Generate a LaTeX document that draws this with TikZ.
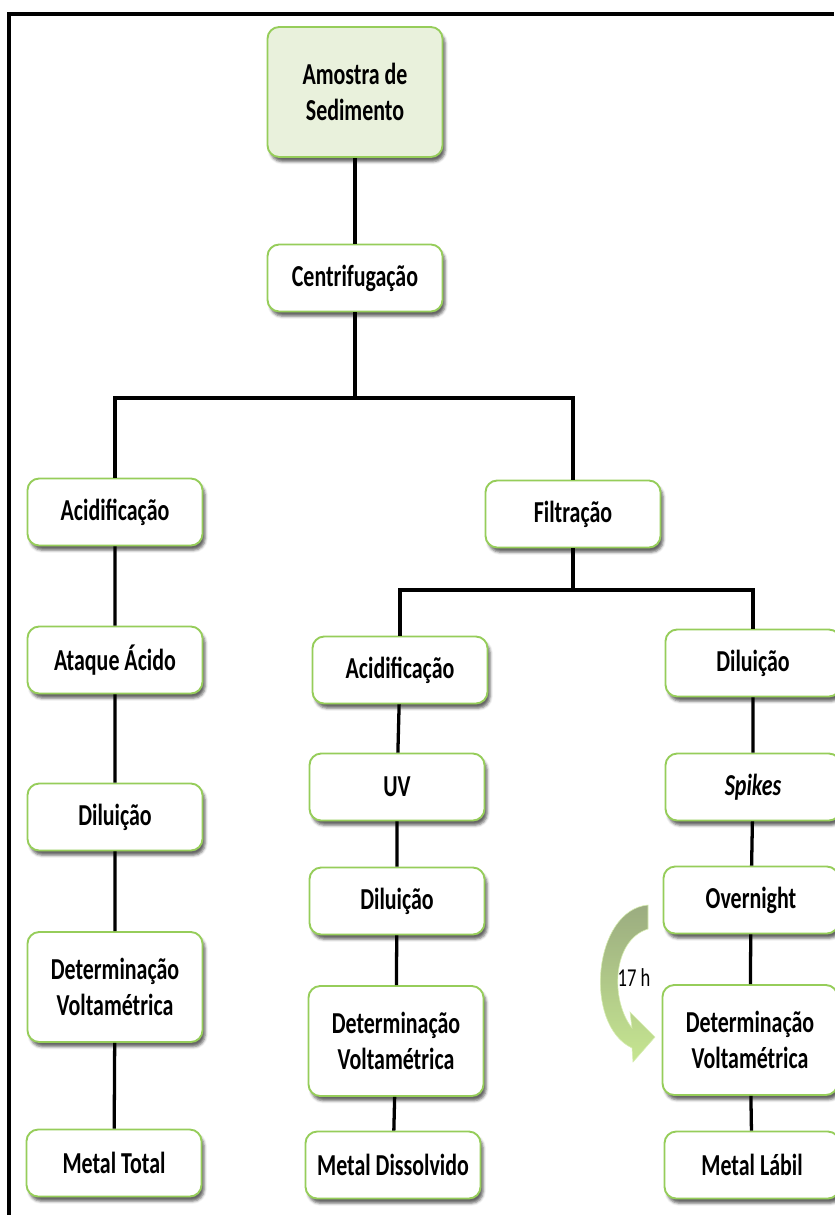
\documentclass[tikz,border=0pt]{standalone}
\usepackage{fontspec}
\setmainfont{Carlito}[FakeStretch=0.72]
\usetikzlibrary{shadows.blur}
\definecolor{boxgreen}{RGB}{150,205,90}
\definecolor{boxfill}{RGB}{233,241,220}
\definecolor{arrowtop}{RGB}{155,172,128}
\definecolor{arrowbot}{RGB}{198,230,145}

\begin{document}
\begin{tikzpicture}[
    x=0.03cm, y=-0.03cm,
    etapa/.style={rectangle, draw=boxgreen, fill=white, line width=1.6pt,
        minimum width=5.25cm, minimum height=2.01cm, rounded corners=10pt,
        align=center, font=\fontsize{26}{30.5}\selectfont\bfseries,
        blur shadow={shadow xshift=0.08cm, shadow yshift=-0.14cm,
            shadow blur radius=0.08cm, shadow opacity=60}},
    etapadupla/.style={etapa, minimum height=3.3cm},
    liga/.style={line width=2.8pt, black}
]
\useasboundingbox (0,0) rectangle (834,1215);

% moldura
\draw[line width=3pt] (9,1215) -- (9,14) -- (834,14);

% topo
\node[etapa, fill=boxfill, minimum height=3.9cm] (amostra) at (355,92) {Amostra de\\Sedimento};
\node[etapa] (centri) at (355,278) {Centrifugação};

% coluna esquerda
\node[etapa] (acidL) at (115,512) {Acidificação};
\node[etapa] (ataque) at (115,660) {Ataque Ácido};
\node[etapa] (dilL) at (115,817) {Diluição};
\node[etapadupla] (detL) at (115,987) {Determinação\\Voltamétrica};
\node[etapa] (total) at (114,1163) {Metal Total};

% coluna do meio
\node[etapa] (filt) at (573,514) {Filtração};
\node[etapa] (acidM) at (400,670) {Acidificação};
\node[etapa] (uv) at (397,787) {UV};
\node[etapa] (dilM) at (397,901) {Diluição};
\node[etapadupla] (detM) at (396,1041) {Determinação\\Voltamétrica};
\node[etapa] (dissolv) at (393,1165) {Metal Dissolvido};

% coluna direita
\node[etapa] (dilR) at (753,663) {Diluição};
\node[etapa] (spikes) at (753,787) {\itshape Spikes};
\node[etapa] (overn) at (751,900) {Overnight};
\node[etapadupla] (detR) at (750,1040) {Determinação\\Voltamétrica};
\node[etapa] (labil) at (752,1165) {Metal Lábil};

% ligacoes
\coordinate (j1) at (355,398);
\coordinate (j2) at (573,590);
\draw[liga] (amostra) -- (centri) -- (j1);
\draw[liga] (acidL) |- (j1) -| (filt);
\draw[liga] (filt) -- (j2);
\draw[liga] (acidM) |- (j2) -| (dilR);
\draw[liga] (acidL) -- (ataque) -- (dilL) -- (detL) -- (total);
\draw[liga] (acidM) -- (uv) -- (dilM) -- (detM) -- (dissolv);
\draw[liga] (dilR) -- (spikes) -- (overn) -- (detR) -- (labil);

% seta curva 17 h
\path[top color=arrowtop, bottom color=arrowbot, draw=arrowbot!70!white, line width=0.5pt]
    (648,905) .. controls (593,910) and (583,1025) .. (632,1048)
    -- (633,1062) -- (655,1037) -- (630,1012) -- (632,1028)
    .. controls (610,1000) and (612,940) .. (648,929) -- cycle;
\node[font=\fontsize{22}{25}\selectfont] (tempo) at (634,978) {17 h};
\end{tikzpicture}
\end{document}
